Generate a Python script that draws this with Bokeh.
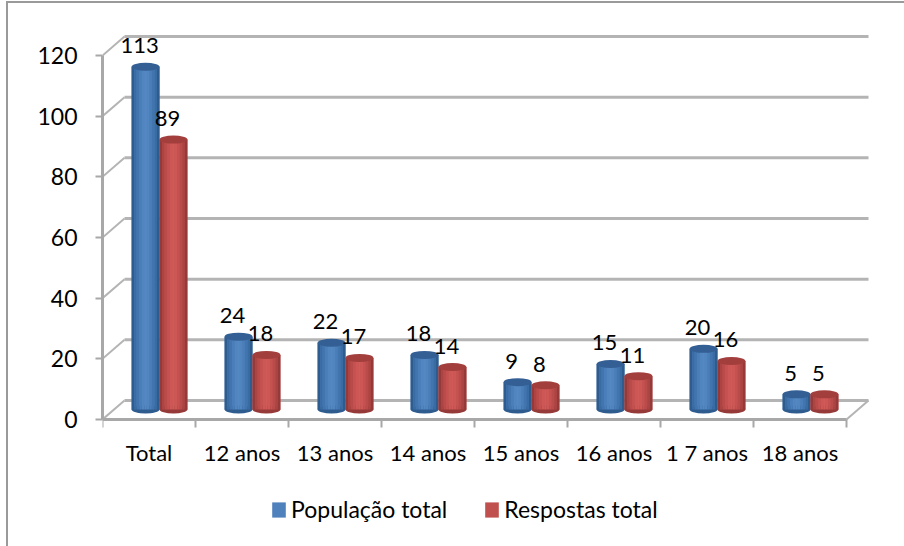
from bokeh.embed import file_html
from bokeh.resources import INLINE
from bokeh.plotting import figure
from bokeh.models import Range1d, FixedTicker, Legend, LegendItem, ColumnDataSource
from bokeh.core.properties import value

categories = ["Total", "12 anos", "13 anos", "14 anos", "15 anos", "16 anos", "1 7 anos", "18 anos"]
populacao = [113, 24, 22, 18, 9, 15, 20, 5]
respostas = [89, 18, 17, 14, 8, 11, 16, 5]
y_ticks = [0, 20, 40, 60, 80, 100, 120]
series_names = ["População total", "Respostas total"]

FONT = "Lato"
PX_X = 93.0          # pixels per category
PX_Y = 3.033         # pixels per value unit
FRAME_W = 778
ABOVE_ZERO, BELOW_ZERO = 389, 127   # frame extent around the zero line, in pixels
GRID = "#b4b4b4"
AXIS = "#a8a8a8"

DX, DY = 22 / PX_X, 19 / PX_Y        # depth of the 3-D box
BASE = 3.3                           # bars stand on the floor, behind the front edge
SHIFT = 0.113                        # pair centre is moved into the floor
BAR_W = 0.30
CAP_H = 8 / PX_Y

p = figure(width=896, height=543, output_backend="svg", toolbar_location=None,
           x_range=Range1d(0, FRAME_W / PX_X),
           y_range=Range1d(-BELOW_ZERO / PX_Y, ABOVE_ZERO / PX_Y),
           frame_width=FRAME_W, frame_height=ABOVE_ZERO + BELOW_ZERO,
           min_border_left=94, min_border_top=27, min_border_right=24, min_border_bottom=0,
           outline_line_color=None, background_fill_color=None, border_fill_color="white")
p.styles = {"margin-left": "6px", "margin-top": "1px",
            "border-left": "2px solid #9a9a9a", "border-top": "2px solid #9a9a9a"}
p.grid.visible = False

# axes
n = len(categories)
p.xaxis.fixed_location = 0
p.xaxis.bounds = (0, n)
p.xaxis.ticker = FixedTicker(ticks=[i + 0.5 for i in range(n)], minor_ticks=list(range(n + 1)))
p.xaxis.major_label_overrides = {i + 0.5: c for i, c in enumerate(categories)}
p.xaxis.major_tick_line_color = None
p.xaxis.major_tick_out = 0
p.xaxis.major_tick_in = 0
p.xaxis.minor_tick_out = 8
p.xaxis.minor_tick_in = 0
p.xaxis.minor_tick_line_color = AXIS
p.xaxis.minor_tick_line_width = 2
p.xaxis.axis_line_color = AXIS
p.xaxis.axis_line_width = 3
p.xaxis.major_label_standoff = 11
p.xaxis.major_label_text_font = FONT
p.xaxis.major_label_text_font_size = "22px"
p.xaxis.major_label_text_color = "#000000"

p.yaxis.bounds = (0, y_ticks[-1])
p.yaxis.ticker = FixedTicker(ticks=y_ticks, minor_ticks=[])
p.yaxis.major_tick_out = 7
p.yaxis.major_tick_in = 0
p.yaxis.major_tick_line_color = AXIS
p.yaxis.major_tick_line_width = 2
p.yaxis.minor_tick_line_color = None
p.yaxis.axis_line_color = AXIS
p.yaxis.axis_line_width = 3
p.yaxis.major_label_standoff = 18
p.yaxis.major_label_text_font = FONT
p.yaxis.major_label_text_font_size = "23px"
p.yaxis.major_label_text_color = "#000000"

# 3-D box: back wall lines, side diagonals and floor edge
p.segment(x0=[DX] * len(y_ticks), y0=[t + DY for t in y_ticks],
          x1=[n + DX] * len(y_ticks), y1=[t + DY for t in y_ticks],
          line_color=GRID, line_width=3)
p.segment(x0=[0] * len(y_ticks), y0=y_ticks, x1=[DX] * len(y_ticks), y1=[t + DY for t in y_ticks],
          line_color=GRID, line_width=2)
p.segment(x0=[n], y0=[0], x1=[n + DX], y1=[DY], line_color=GRID, line_width=2)

blue_strips = ["#2f5c8f", "#3a6ca4", "#4275ae", "#4a7eb9", "#5085c0", "#5388c3",
               "#5085c0", "#4a7eb9", "#4275ae", "#3a6ca4", "#2f5c8f"]
red_strips = ["#953a38", "#ab4543", "#b94c4a", "#c55250", "#cc5755", "#cf5a58",
              "#cc5755", "#c55250", "#b94c4a", "#ab4543", "#953a38"]


def draw(values, side, solid, strips, cap):
    centres = [i + 0.5 + SHIFT + side * BAR_W / 2 for i in range(n)]
    tops = [v + BASE for v in values]
    bases = [BASE] * n
    main = p.quad(left=[c - BAR_W / 2 for c in centres], right=[c + BAR_W / 2 for c in centres],
                  top=tops, bottom=bases, fill_color=solid, line_color=None)
    p.ellipse(x=centres, y=bases, width=BAR_W, height=CAP_H, fill_color=strips[0], line_color=None)
    w = BAR_W / len(strips)
    for k, col in enumerate(strips):
        p.quad(left=[c - BAR_W / 2 + k * w for c in centres],
               right=[c - BAR_W / 2 + (k + 1) * w for c in centres],
               top=tops, bottom=bases, fill_color=col, line_color=None)
    p.ellipse(x=centres, y=tops, width=BAR_W, height=CAP_H, fill_color=cap, line_color=None)
    src = ColumnDataSource(dict(x=centres, y=tops, t=[str(v) for v in values]))
    p.text(x="x", y="y", text="t", source=src, x_offset=-6, y_offset=-21,
           text_align="center", text_baseline="middle", text_color="#000000",
           text_font=value(FONT), text_font_size="22px")
    return main


r1 = draw(populacao, -1, "#4f81bd", blue_strips, "#345f94")
r2 = draw(respostas, 1, "#c0504d", red_strips, "#a23f3d")

legend = Legend(items=[LegendItem(label=series_names[0], renderers=[r1]),
                       LegendItem(label=series_names[1], renderers=[r2])],
                orientation="horizontal", location=(168, 23),
                glyph_width=17, glyph_height=19, label_standoff=4, spacing=36,
                padding=0, margin=0, border_line_color=None, background_fill_color=None,
                label_text_font=FONT, label_text_font_size="23px", label_text_color="#000000")
p.add_layout(legend, "center")

open("out.html", "w").write(file_html(p, INLINE))
